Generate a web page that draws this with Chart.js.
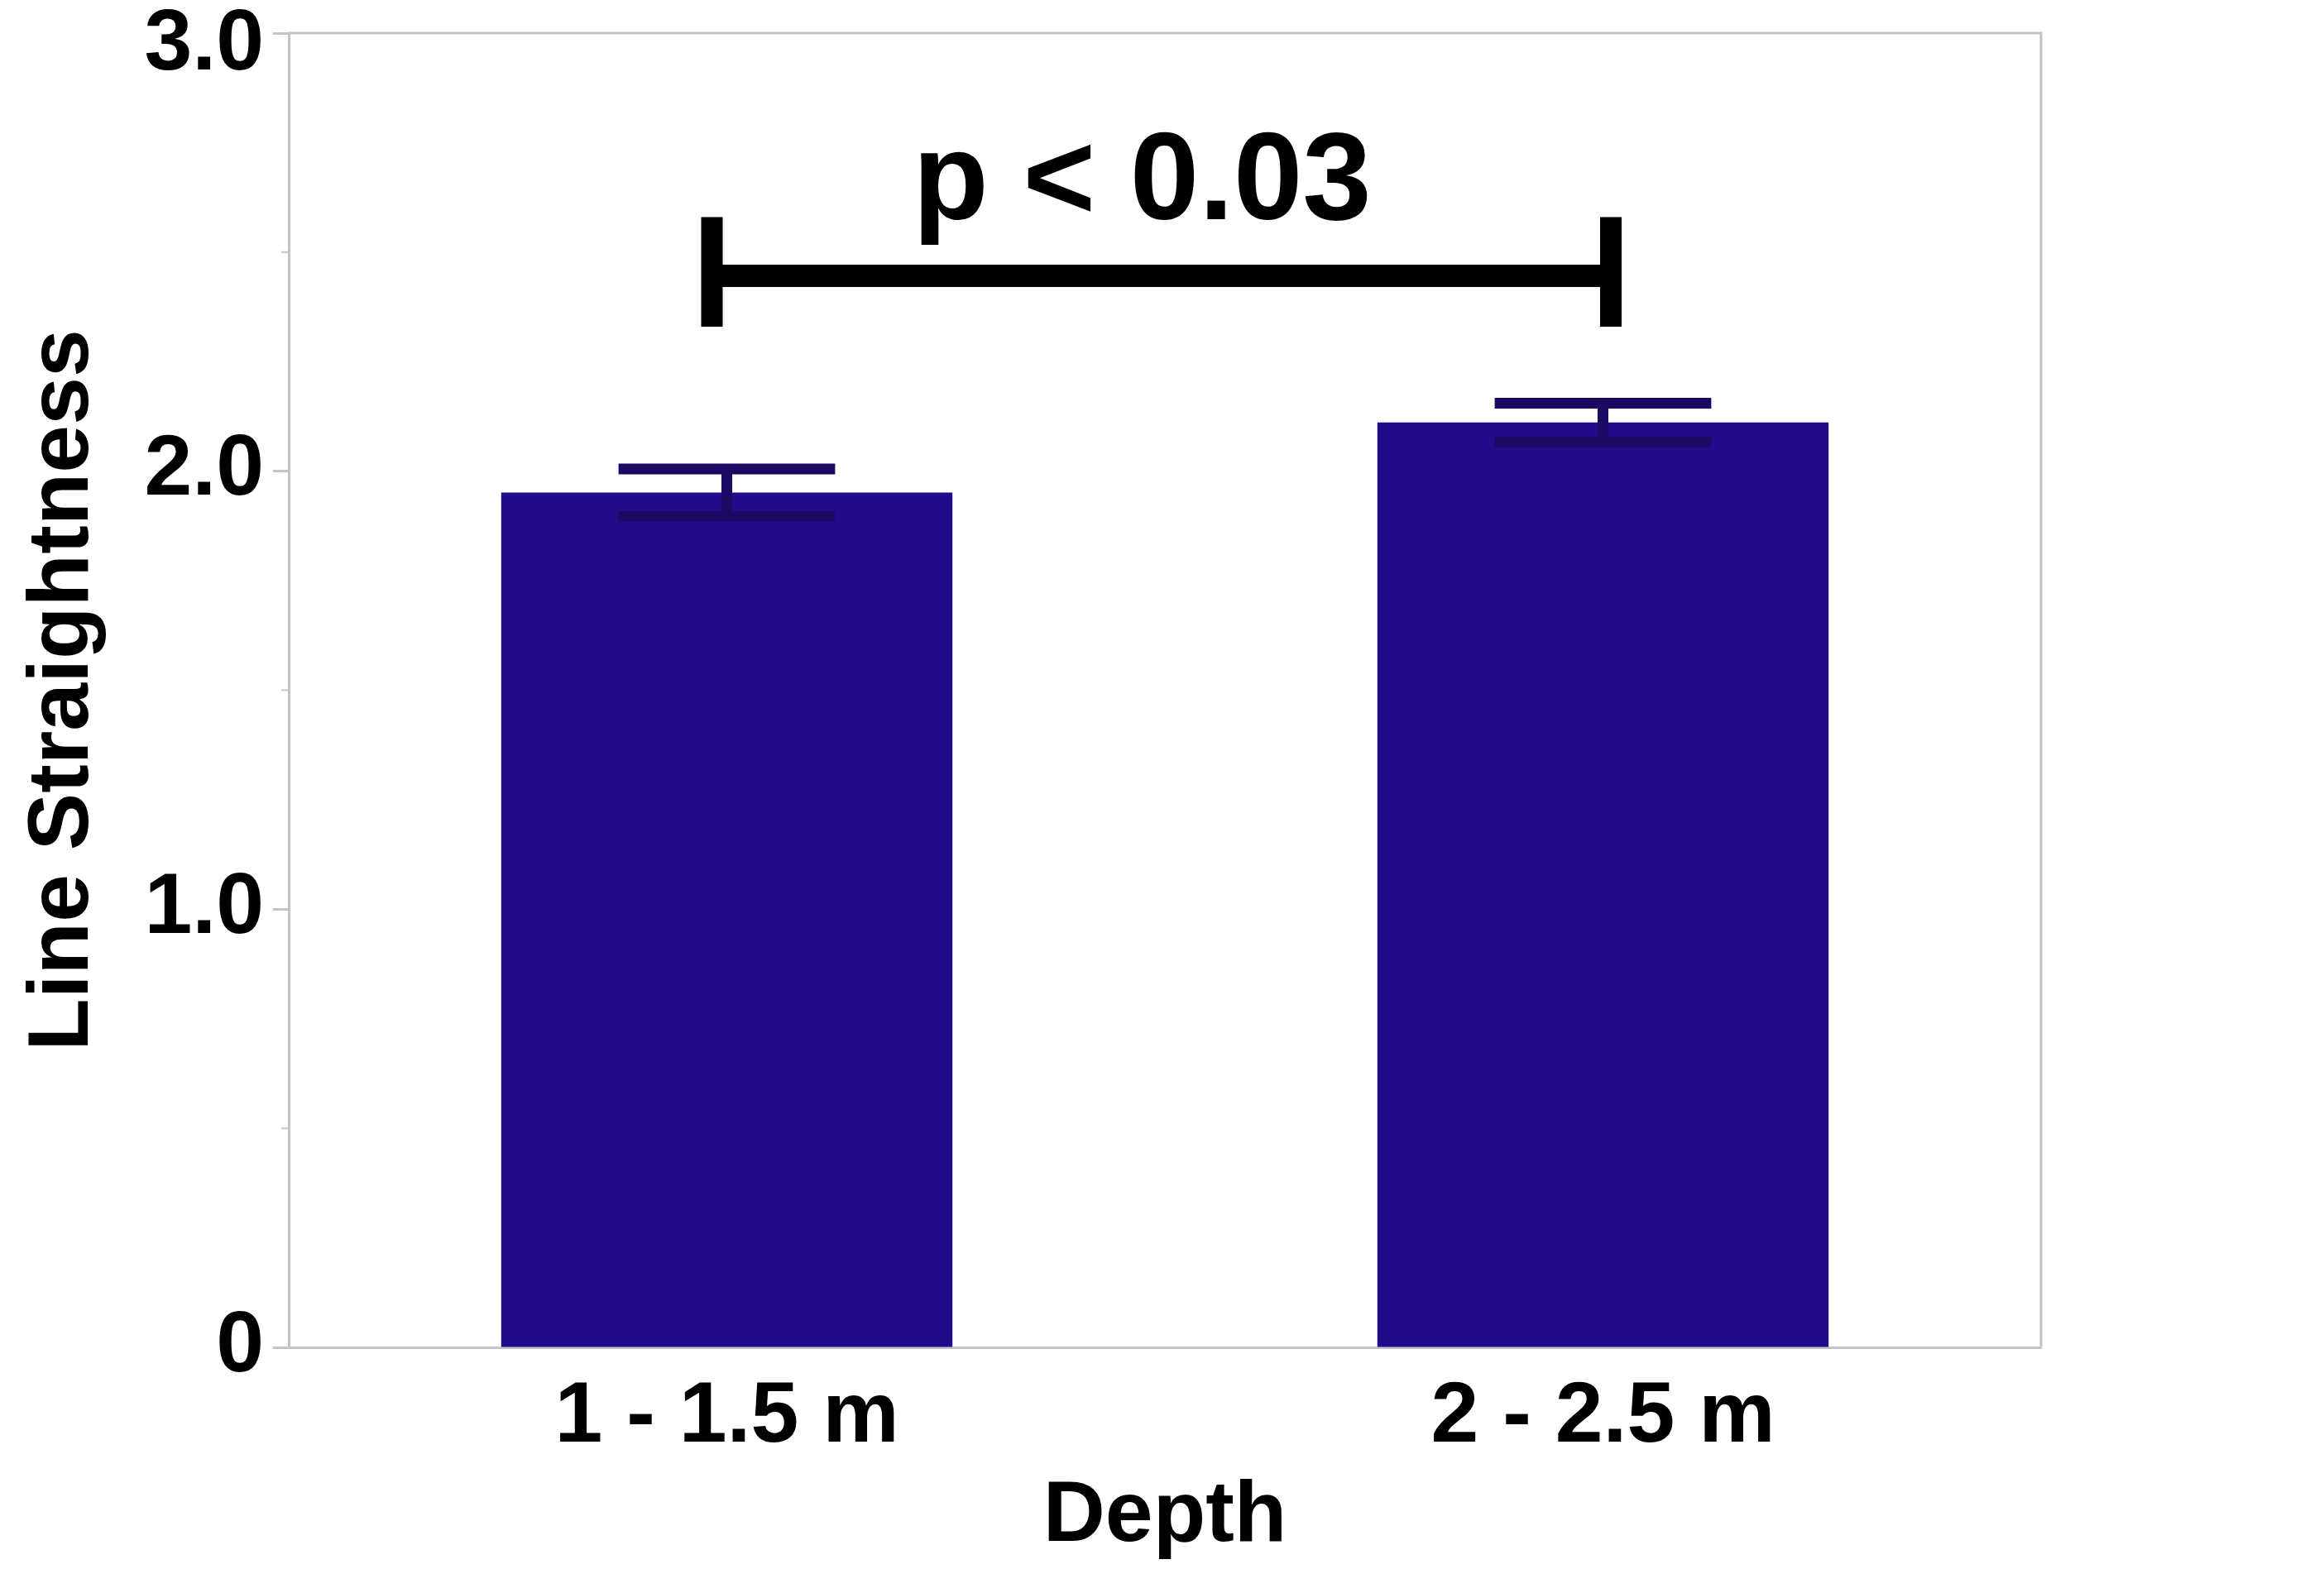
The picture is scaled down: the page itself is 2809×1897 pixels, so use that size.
<!DOCTYPE html>
<html>
<head>
<meta charset="utf-8">
<title>Line Straightness by Depth</title>
<script src="https://cdn.jsdelivr.net/npm/chart.js@4.4.1/dist/chart.umd.min.js"></script>
<style>
    html, body { margin: 0; padding: 0; background: #fff; }
    canvas { display: block; }
</style>
</head>
<body>
<canvas id="depthChart" width="2809" height="1897"></canvas>
<script>
// データ
const depthLabels = ['1 - 1.5 m', '2 - 2.5 m'];
const straightness = [1.951, 2.111];
const stdErrors = [0.054, 0.044];
const yTickValues = [0, 0.5, 1, 1.5, 2, 2.5, 3];

// 有意差ブラケット
const bracketX = [-0.017, 1.009];
const bracketY = 2.446;
const bracketEnds = [2.33, 2.58];
const pText = 'p < 0.03';
const pTextPos = [0.474, 2.576];

const FONT = '"Liberation Sans", Arial, Helvetica, sans-serif';
const AXIS_GRAY = '#c4c4c4';
const BAR_COLOR = '#230c8b';
const ERR_COLOR = '#1c0964';

Chart.defaults.color = '#000';
Chart.defaults.font.family = FONT;

/**
 * 枠線・副目盛り・エラーバー・ブラケットを描画
 */
const extrasPlugin = {
    id: 'extras',
    beforeDraw(chart) {
        // 最上段のラベルがはみ出さないよう少し下げる
        const items = chart.scales.y.getLabelItems();
        const topItem = items[items.length - 1];
        if (topItem && !topItem._shifted) {
            topItem.options.translation[1] += 15;
            topItem._shifted = true;
        }
    },
    afterDatasetsDraw(chart) {
        const { ctx, chartArea, scales } = chart;
        const x = scales.x;
        const y = scales.y;
        ctx.save();

        // 上と右の枠線
        ctx.strokeStyle = AXIS_GRAY;
        ctx.lineWidth = 3;
        ctx.beginPath();
        ctx.moveTo(chartArea.left, chartArea.top);
        ctx.lineTo(chartArea.right, chartArea.top);
        ctx.lineTo(chartArea.right, chartArea.bottom);
        ctx.stroke();

        // 副目盛り
        ctx.lineWidth = 2;
        yTickValues.forEach(v => {
            if (Number.isInteger(v)) return;
            const py = y.getPixelForValue(v);
            ctx.beginPath();
            ctx.moveTo(chartArea.left - 9, py);
            ctx.lineTo(chartArea.left, py);
            ctx.stroke();
        });

        // エラーバー
        const meta = chart.getDatasetMeta(0);
        ctx.strokeStyle = ERR_COLOR;
        ctx.lineWidth = 13;
        ctx.lineCap = 'butt';
        straightness.forEach((v, i) => {
            const bar = meta.data[i];
            const cx = bar.x;
            const half = bar.width * 0.24;
            const top = y.getPixelForValue(v + stdErrors[i]);
            const bottom = y.getPixelForValue(v - stdErrors[i]);
            ctx.beginPath();
            ctx.moveTo(cx, top);
            ctx.lineTo(cx, bottom);
            ctx.moveTo(cx - half, top);
            ctx.lineTo(cx + half, top);
            ctx.moveTo(cx - half, bottom);
            ctx.lineTo(cx + half, bottom);
            ctx.stroke();
        });

        // ブラケット
        const x1 = x.getPixelForValue(bracketX[0]);
        const x2 = x.getPixelForValue(bracketX[1]);
        const by = y.getPixelForValue(bracketY);
        ctx.strokeStyle = '#000';
        ctx.lineWidth = 27;
        ctx.beginPath();
        ctx.moveTo(x1, by);
        ctx.lineTo(x2, by);
        ctx.stroke();
        ctx.lineWidth = 26;
        ctx.beginPath();
        [x1, x2].forEach(px => {
            ctx.moveTo(px, y.getPixelForValue(bracketEnds[0]));
            ctx.lineTo(px, y.getPixelForValue(bracketEnds[1]));
        });
        ctx.stroke();

        // p値
        ctx.fillStyle = '#000';
        ctx.font = `bold 150px ${FONT}`;
        ctx.textAlign = 'center';
        ctx.textBaseline = 'alphabetic';
        ctx.fillText(pText, x.getPixelForValue(pTextPos[0]), y.getPixelForValue(pTextPos[1]));

        ctx.restore();
    }
};

const ctx = document.getElementById('depthChart').getContext('2d');

new Chart(ctx, {
    type: 'bar',
    data: {
        labels: depthLabels,
        datasets: [{
            data: straightness,
            backgroundColor: BAR_COLOR,
            borderWidth: 0,
            barPercentage: 0.515,
            categoryPercentage: 1.0
        }]
    },
    options: {
        responsive: false,
        devicePixelRatio: 1,
        animation: false,
        layout: {
            padding: { top: 40, right: 342, left: 0, bottom: 0 }
        },
        plugins: {
            legend: { display: false },
            tooltip: { enabled: false }
        },
        scales: {
            x: {
                grid: { display: false },
                border: { display: true, color: AXIS_GRAY, width: 3 },
                ticks: {
                    font: { size: 104, weight: 'bold' },
                    padding: 15
                },
                title: {
                    display: true,
                    text: 'Depth',
                    font: { size: 104, weight: 'bold' },
                    padding: { top: 0, bottom: 0 }
                },
                afterFit(scale) {
                    scale.height = 268;
                    scale.paddingLeft = 0;
                    scale.paddingRight = 0;
                }
            },
            y: {
                min: 0,
                max: 3,
                afterBuildTicks(scale) {
                    scale.ticks = yTickValues.map(v => ({ value: v }));
                },
                grid: {
                    drawOnChartArea: false,
                    drawTicks: true,
                    tickLength: 19,
                    tickWidth: 3,
                    tickColor: c => (c.tick && Number.isInteger(c.tick.value)) ? AXIS_GRAY : 'rgba(0,0,0,0)'
                },
                border: { display: true, color: AXIS_GRAY, width: 3 },
                ticks: {
                    font: { size: 104, weight: 'bold' },
                    padding: 11,
                    autoSkip: false,
                    callback: v => v === 0 ? '0' : (Number.isInteger(v) ? v.toFixed(1) : '')
                },
                title: {
                    display: true,
                    text: 'Line Straightness',
                    font: { size: 104, weight: 'bold' },
                    padding: { top: 15, bottom: 0 }
                },
                afterFit(scale) {
                    scale.width = 349;
                    scale.paddingTop = 0;
                    scale.paddingBottom = 0;
                }
            }
        }
    },
    plugins: [extrasPlugin]
});
</script>
</body>
</html>
